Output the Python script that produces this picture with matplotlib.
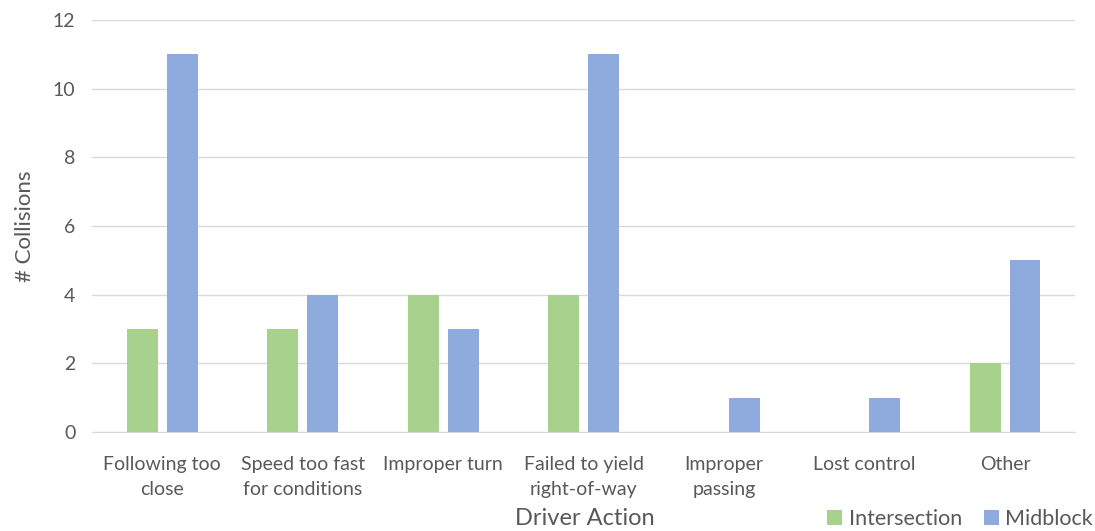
import matplotlib.pyplot as plt
import numpy as np

actions = ["Following too\nclose", "Speed too fast\nfor conditions", "Improper turn",
           "Failed to yield\nright-of-way", "Improper\npassing", "Lost control", "Other"]
intersection = [3, 3, 4, 4, 0, 0, 2]
midblock = [11, 4, 3, 11, 1, 1, 5]

plt.rcParams['font.family'] = ['Lato', 'DejaVu Sans']
txt = '#595959'

fig = plt.figure(figsize=(10.95, 5.31), dpi=100)
ax = fig.add_axes([0.084, 0.1864, 0.898, 0.7756])

x = np.arange(len(actions))
w = 0.22
ax.bar(x - 0.142, intersection, w, color='#A9D18E', label='Intersection', zorder=3)
ax.bar(x + 0.142, midblock, w, color='#8FAADC', label='Midblock', zorder=3)

ax.set_xlim(-0.5, len(actions) - 0.5)
ax.set_ylim(0, 12)
ax.set_yticks(range(0, 13, 2))
ax.grid(axis='y', color='#D9D9D9', linewidth=1, zorder=0)
for s in ['top', 'right', 'left']:
    ax.spines[s].set_visible(False)
ax.spines['bottom'].set_color('#D9D9D9')
ax.tick_params(length=0, labelsize=14, colors=txt)
ax.tick_params(axis='x', pad=17)
ax.tick_params(axis='y', pad=12)
ax.set_xticks(x)
ax.set_xticklabels(actions, linespacing=1.6)

ax.set_ylabel('# Collisions', fontsize=16, color=txt, labelpad=13)
fig.text(0.534, 0.024, 'Driver Action', fontsize=17, color=txt, ha='center', va='center')

fig.legend(loc='center right', bbox_to_anchor=(1.006, 0.022), ncol=2, frameon=False,
           fontsize=15.5, labelcolor=txt, handlelength=0.7, handleheight=0.7,
           handletextpad=0.3, columnspacing=1.0, borderaxespad=0)

fig.savefig('out.png', dpi=100)
